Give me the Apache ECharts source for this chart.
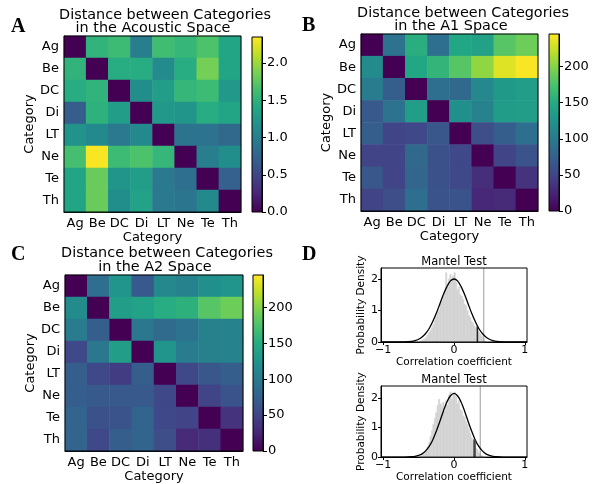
<!DOCTYPE html>
<html><head><meta charset="utf-8">
<script src="https://cdn.jsdelivr.net/npm/echarts@6/dist/echarts.min.js"></script>
<style>html,body{margin:0;padding:0;background:#fff}#c{width:592px;height:484px}</style>
</head><body><div id="c"></div>
<script>
// ---------------- DATA ----------------
const categories = ['Ag','Be','DC','Di','LT','Ne','Te','Th'];

// rows = y category (Ag top), columns = x category
const acousticDist = [
  [0.00,1.52,1.60,1.00,1.62,1.55,1.68,1.38],
  [1.52,0.00,1.45,1.45,1.12,1.45,1.85,1.38],
  [1.45,1.52,0.00,1.15,1.30,1.55,1.60,1.25],
  [0.70,1.50,1.30,0.00,1.25,1.22,1.45,1.38],
  [1.20,1.10,0.95,1.10,0.00,0.90,0.88,0.80],
  [1.65,2.33,1.60,1.68,1.55,0.00,1.00,1.15],
  [1.38,1.80,1.22,1.30,0.95,0.85,0.00,0.72],
  [1.38,1.80,1.15,1.35,0.95,0.92,1.10,0.00]
];
const a1Dist = [
  [0,92,153,88,146,140,180,190],
  [117,0,146,160,180,204,233,243],
  [102,73,0,88,83,114,131,136],
  [68,92,136,0,122,109,134,136],
  [73,49,53,66,0,58,73,88],
  [49,49,83,61,53,0,49,63],
  [66,49,80,61,53,32,0,36],
  [49,58,88,63,63,27,29,0]
];
const a2Dist = [
  [0,88,126,68,114,109,122,126],
  [117,0,136,141,151,156,180,190],
  [102,73,0,97,85,92,107,109],
  [53,97,136,0,126,102,107,109],
  [73,53,44,73,0,53,66,73],
  [73,68,68,68,53,0,49,63],
  [78,61,63,78,53,49,0,36],
  [78,53,73,78,58,29,34,0]
];
const acousticMax = 2.35;
const spaceMax = 245;
const acousticTicks = [0, 0.5, 1, 1.5, 2];
const spaceTicks = [0, 50, 100, 150, 200];
const viridis = ['#440154','#482475','#414487','#355f8d','#2a788e','#21918c','#22a884','#44bf70','#7ad151','#bddf26','#fde725'];

// Mantel test null distributions (histogram, density)
const binWidth = 0.02;
const binCenters = [-0.47,-0.45,-0.43,-0.41,-0.39,-0.37,-0.35,-0.33,-0.31,-0.29,-0.27,-0.25,-0.23,-0.21,-0.19,-0.17,-0.15,-0.13,-0.11,-0.09,-0.07,-0.05,-0.03,-0.01,
  0.01,0.03,0.05,0.07,0.09,0.11,0.13,0.15,0.17,0.19,0.21,0.23,0.25,0.27,0.29,0.31,0.33,0.35,0.37,0.39,0.41,0.43];
const hist1 = [0.03,0.05,0.08,0.10,0.15,0.22,0.30,0.36,0.45,0.55,0.68,0.80,0.95,1.02,1.20,1.30,1.45,1.62,2.20,1.85,2.00,2.15,1.95,2.10,
  2.20,1.90,1.65,1.75,1.50,1.45,1.35,1.20,1.15,1.00,0.85,0.78,0.65,0.60,0.50,0.45,0.40,0.32,0.25,0.20,0.15,0.05];
const hist2 = [0.02,0.05,0.10,0.16,0.25,0.36,0.50,0.70,0.90,1.10,1.30,1.50,1.75,1.95,1.80,1.70,1.85,1.55,1.90,1.75,2.10,2.20,1.95,2.15,
  2.20,2.05,1.80,1.90,1.60,1.55,1.40,1.35,1.20,1.10,0.95,0.80,0.65,0.55,0.45,0.30,0.25,0.15,0.10,0.05,0.02,0.00];
const curveX = [-1.03,-0.9,-0.8,-0.7,-0.6,-0.55,-0.5,-0.45,-0.4,-0.35,-0.3,-0.25,-0.2,-0.15,-0.1,-0.05,0,
  0.05,0.1,0.15,0.2,0.25,0.3,0.35,0.4,0.45,0.5,0.55,0.6,0.7,0.8,0.9,1.03];
const curve1 = [0,0,0.0003,0.004,0.022,0.045,0.087,0.16,0.27,0.43,0.65,0.91,1.21,1.51,1.76,1.94,2.00,
  1.94,1.76,1.51,1.21,0.91,0.65,0.43,0.27,0.16,0.087,0.045,0.022,0.004,0.0003,0,0];
const curve2 = [0,0,0.0001,0.002,0.012,0.026,0.057,0.11,0.21,0.36,0.58,0.87,1.20,1.55,1.86,2.07,2.15,
  2.07,1.86,1.55,1.20,0.87,0.58,0.36,0.21,0.11,0.057,0.026,0.012,0.002,0.0001,0,0];
const observedR = [0.42, 0.37];          // grey full-height lines
const thresholdR = [0.33, 0.29];         // dark short lines
const thresholdH = [0.52, 0.60];
const histYMax = [2.35, 2.4];
const histXTicks = [-1, 0, 1];
const histYTicks = [0, 1, 2];

// ---------------- CHART ----------------
const FONT = 'DejaVu Sans';
const chart = echarts.init(document.getElementById('c'), null, {renderer:'canvas', width:592, height:484});
const txt = (size) => ({color:'#000', fontSize:size, fontFamily:FONT});

const panels = [
  {data: acousticDist, max: acousticMax, ticks: acousticTicks, fmt: v => v.toFixed(1),
   grid:{left:64,top:36,width:177,height:176}, bar:{left:252,top:37,width:10,height:175}},
  {data: a1Dist, max: spaceMax, ticks: spaceTicks, fmt: v => String(v),
   grid:{left:361,top:34,width:177,height:177}, bar:{left:549,top:34,width:10,height:177}},
  {data: a2Dist, max: spaceMax, ticks: spaceTicks, fmt: v => String(v),
   grid:{left:65,top:275,width:178,height:176}, bar:{left:253,top:275,width:10,height:176}}
];
const histGrids = [
  {left:381,top:268,width:146,height:74},
  {left:381,top:386,width:146,height:74}
];

const grid = [], xAxis = [], yAxis = [], series = [], visualMap = [];
const border = {show:true, z:10, borderColor:'#000', borderWidth:1, backgroundColor:'rgba(0,0,0,0)'};

panels.forEach((p, i) => {
  const g = grid.length;
  grid.push(Object.assign({}, border, p.grid));
  grid.push(Object.assign({}, border, p.bar));
  xAxis.push({gridIndex:g, type:'category', data:categories, position:'bottom',
    axisLine:{lineStyle:{color:'#000', width:1}},
    axisTick:{alignWithLabel:true, length:4, lineStyle:{color:'#000'}},
    axisLabel:Object.assign({interval:0, margin:5}, txt(13)),
    splitLine:{show:false},
    name:'Category', nameLocation:'middle', nameGap:19, nameTextStyle:txt(13)});
  yAxis.push({gridIndex:g, type:'category', data:categories, inverse:true,
    axisLine:{lineStyle:{color:'#000', width:1}},
    axisTick:{alignWithLabel:true, length:4, lineStyle:{color:'#000'}},
    axisLabel:Object.assign({interval:0, margin:5}, txt(13)),
    splitLine:{show:false},
    name:'Category', nameLocation:'middle', nameGap:27, nameRotate:90, nameTextStyle:txt(13)});
  xAxis.push({gridIndex:g+1, type:'category', data:[''], show:false});
  yAxis.push({gridIndex:g+1, type:'value', position:'right', min:0, max:p.max,
    axisLine:{show:true, lineStyle:{color:'#000'}},
    axisTick:{show:true, length:4, customValues:p.ticks, lineStyle:{color:'#000'}},
    axisLabel:Object.assign({customValues:p.ticks, formatter:p.fmt, margin:5}, txt(13)),
    splitLine:{show:false}});
  const cells = [];
  p.data.forEach((row, r) => row.forEach((v, c) => cells.push([c, r, v])));
  const si = series.length;
  series.push({type:'heatmap', xAxisIndex:g, yAxisIndex:g, data:cells, silent:true});
  visualMap.push({type:'continuous', show:false, seriesIndex:si, min:0, max:p.max, dimension:2,
    inRange:{color:viridis}});
  const stops = viridis.map((c, k) => ({offset:k/(viridis.length-1), color:c}));
  series.push({type:'bar', xAxisIndex:g+1, yAxisIndex:g+1, data:[p.max], barWidth:'100%', silent:true,
    itemStyle:{color:new echarts.graphic.LinearGradient(0,1,0,0,stops)}});
});

const hists = [hist1, hist2];
const curves = [curve1, curve2];
histGrids.forEach((hg, i) => {
  const g = grid.length;
  grid.push(Object.assign({}, border, hg));
  xAxis.push({gridIndex:g, type:'value', min:-1.03, max:1.03,
    axisLine:{onZero:false, lineStyle:{color:'#000'}},
    axisTick:{show:true, length:3, customValues:histXTicks, lineStyle:{color:'#000'}},
    axisLabel:Object.assign({customValues:histXTicks, margin:3,
      formatter:v => v < 0 ? '\u2212' + Math.abs(v) : String(v)}, txt(11)),
    splitLine:{show:false},
    name:'Correlation coefficient', nameLocation:'middle', nameGap:10, nameTextStyle:txt(10.5)});
  yAxis.push({gridIndex:g, type:'value', min:0, max:histYMax[i],
    axisLine:{show:true, onZero:false, lineStyle:{color:'#000'}},
    axisTick:{show:true, length:3, customValues:histYTicks, lineStyle:{color:'#000'}},
    axisLabel:Object.assign({customValues:histYTicks, margin:3}, txt(11)),
    splitLine:{show:false},
    name:'Probability Density', nameLocation:'middle', nameGap:10, nameRotate:90, nameTextStyle:txt(10.5)});
  series.push({type:'custom', xAxisIndex:g, yAxisIndex:g, silent:true,
    data: binCenters.map((x, k) => [x, hists[i][k]]),
    renderItem:(params, api) => {
      const x = api.value(0), h = api.value(1);
      const p0 = api.coord([x - binWidth/2, h]);
      const p1 = api.coord([x + binWidth/2, 0]);
      return {type:'rect', shape:{x:p0[0], y:p0[1], width:p1[0]-p0[0], height:p1[1]-p0[1]},
        style:{fill:'#d3d3d3', stroke:'#d3d3d3', lineWidth:0.5}};
    }});
  series.push({type:'line', xAxisIndex:g, yAxisIndex:g, silent:true, symbol:'none', smooth:0.3,
    data: curveX.map((x, k) => [x, curves[i][k]]), lineStyle:{color:'#000', width:1.3}, z:4});
  series.push({type:'line', xAxisIndex:g, yAxisIndex:g, silent:true, symbol:'none',
    data:[[observedR[i],0],[observedR[i],histYMax[i]]], lineStyle:{color:'#9a9a9a', width:1}, z:3});
  series.push({type:'line', xAxisIndex:g, yAxisIndex:g, silent:true, symbol:'none',
    data:[[thresholdR[i],0],[thresholdR[i],thresholdH[i]]], lineStyle:{color:i ? '#444' : '#222', width:i ? 2.5 : 1.5}, z:5});
});

const T = (text, x, y, font, align) => ({type:'text', x, y, silent:true,
  style:{text, font, fill:'#000', align:align||'center', verticalAlign:'middle', textAlign:align||'center', textVerticalAlign:'middle'}});
const titleFont = '14.4px "DejaVu Sans"';
const letterFont = 'bold 20px "Liberation Serif"';
const graphic = [
  T('Distance between Categories', 165, 15, titleFont), T('in the Acoustic Space', 153, 28, titleFont),
  T('Distance between Categories', 463, 13, titleFont), T('in the A1 Space', 451, 26, titleFont),
  T('Distance between Categories', 167, 253, titleFont), T('in the A2 Space', 155, 267, titleFont),
  T('A', 11, 27, letterFont, 'left'), T('B', 302, 26, letterFont, 'left'),
  T('C', 11, 255, letterFont, 'left'), T('D', 302, 255, letterFont, 'left'),
  T('Mantel Test', 454, 262, '11.5px "DejaVu Sans"'), T('Mantel Test', 454, 380, '11.5px "DejaVu Sans"')
];

chart.setOption({backgroundColor:'#fff', animation:false, grid, xAxis, yAxis, series, visualMap, graphic});
</script></body></html>
